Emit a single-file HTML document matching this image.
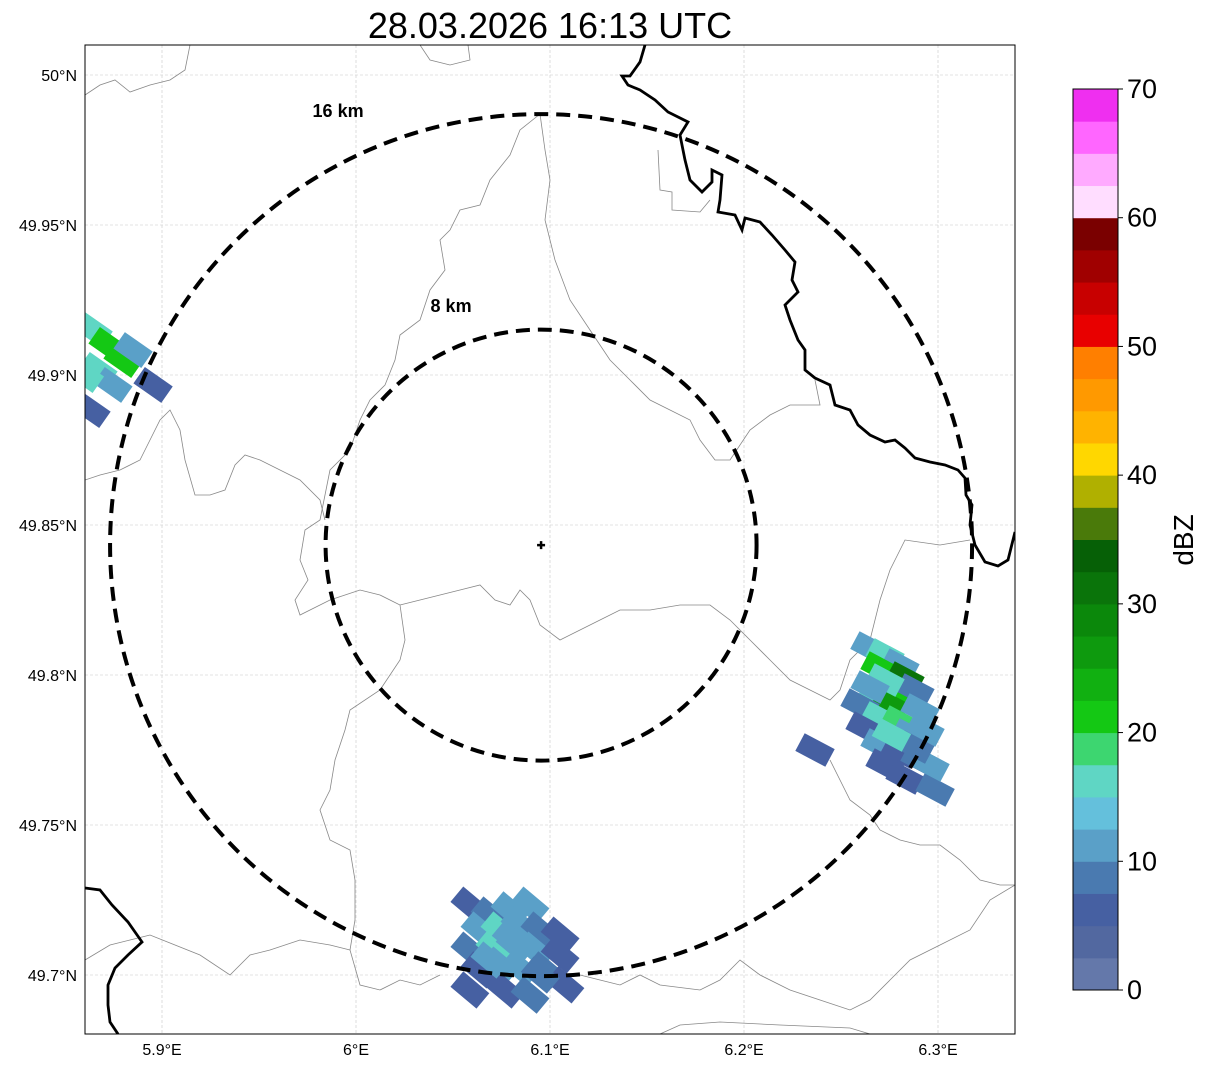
<!DOCTYPE html>
<html><head><meta charset="utf-8"><style>
html,body{margin:0;padding:0;background:#fff;}
svg{display:block;font-family:"Liberation Sans",sans-serif;}
</style></head><body>
<svg id="chart" width="1207" height="1069" viewBox="0 0 1207 1069" xmlns="http://www.w3.org/2000/svg">
<defs><clipPath id="mapclip"><rect x="85" y="45" width="930" height="989"/></clipPath></defs>
<rect x="0" y="0" width="1207" height="1069" fill="#fff"/>
<text x="550" y="38" font-size="36" text-anchor="middle" fill="#000">28.03.2026 16:13 UTC</text>
<g id="grid"></g>
<g clip-path="url(#mapclip)">
<g id="borders" fill="none" stroke="#888" stroke-width="0.8">
<polyline points="85,95 100,85 115,80 130,92 150,85 170,80 185,70 190,45"/>
<polyline points="420,45 430,60 450,65 470,60 468,45"/>
<polyline points="540,114 520,130 510,155 490,180 480,205 460,210 450,230 440,240 445,270 430,290 420,320 400,335 395,360 385,385 370,400 360,420 350,450 330,470 320,520 305,530 300,560 308,580 295,600 300,615 330,600 360,590 380,595 400,605 405,640 400,660 380,690 350,710 345,730 335,760 330,790 320,810 330,840 350,850 355,880 355,920 350,950 360,985 380,990 400,980 420,985 440,975"/>
<polyline points="540,114 545,150 550,180 545,220 555,260 570,300 590,330 610,360 630,380 650,400 670,410 690,420 700,440 715,460 730,460 750,430 770,415 790,405 820,405 815,380"/>
<polyline points="400,605 420,600 440,595 460,590 480,585 495,600 510,605 520,590 530,600 540,625 560,640 580,630 600,620 620,610 650,610 680,605 710,605 730,620 750,640 770,660 790,680 810,690 830,700 840,690 850,660 870,640 880,600 890,570 905,540 940,545 970,540"/>
<polyline points="85,480 100,475 120,470 140,460 150,440 160,420 170,410 180,430 185,460 195,495 210,495 225,490 235,465 245,455 260,460 280,470 300,480 320,500 325,520"/>
<polyline points="85,960 110,945 130,940 150,935 175,945 200,955 230,975 250,955 270,950 300,940 330,945 350,950"/>
<polyline points="580,975 600,980 620,985 640,975 660,985 700,990 720,980 740,960 760,975 790,990 820,1000 850,1010 870,1000 890,980 910,960 940,945 970,930 990,900 1015,885"/>
<polyline points="830,760 850,800 870,815 880,830 900,840 920,845 940,845 960,860 980,880 1000,885 1015,885"/>
<polyline points="660,1034 680,1025 720,1022 780,1025 850,1028 870,1034"/>
<polyline points="658,150 660,190 672,192 672,210 700,212 710,200"/>
</g>
<g id="cells"></g>
<polyline fill="none" stroke="#000" stroke-width="2.8" points="645,45 640,62 630,76 622,76 628,85 640,90 655,100 668,112 688,122 680,135 685,160 690,180 702,192 712,182 712,170 722,175 720,200 718,212 735,215 742,230 745,218 760,222 772,235 785,250 795,262 792,280 798,292 785,305 790,320 798,340 805,350 805,370 815,378 830,385 835,405 850,410 858,425 870,435 885,442 895,440 905,448 915,458 930,462 945,465 958,470 965,478 966,495 972,505 970,525 975,545 985,562 998,566 1008,560 1015,532"/>
<polyline fill="none" stroke="#000" stroke-width="2.8" points="85,888 100,890 112,905 128,922 142,942 128,955 115,968 108,985 108,1005 110,1022 118,1034"/>
<g id="rings"></g>
</g>
<rect x="85" y="45" width="930" height="989" fill="none" stroke="#000" stroke-width="1"/>
<g id="axes"></g>
<g id="cbar"></g>
<text transform="translate(1193,540) rotate(-90)" font-size="28" text-anchor="middle">dBZ</text>
</svg>
<script>
const NS='http://www.w3.org/2000/svg';
// axis data
const lonTicks=[5.9,6.0,6.1,6.2,6.3];
const lonLabels=['5.9°E','6°E','6.1°E','6.2°E','6.3°E'];
const latTicks=[50.0,49.95,49.9,49.85,49.8,49.75,49.7];
const latLabels=['50°N','49.95°N','49.9°N','49.85°N','49.8°N','49.75°N','49.7°N'];
const radarLon=6.0954, radarLat=49.8433;
const ringKm=[8,16];
const ringLabels=['8 km','16 km'];
// colour scale data
const levels=[0,2.5,5,7.5,10,12.5,15,17.5,20,22.5,25,27.5,30,32.5,35,37.5,40,42.5,45,47.5,50,52.5,55,57.5,60,62.5,65,67.5,70];
const levelColors=['#6478aa','#5268a0','#4660a2','#4a7ab0','#5aa0c8','#64c0dc','#5fd6c4','#3dd670','#14c814','#11b011','#0e9a0e','#0b880b','#0a740a','#066006','#4a7a0a','#b0b000','#ffd700','#ffb300','#ff9900','#ff7f00','#e80000','#c80000','#a00000','#7a0000','#ffddff','#ffaaff','#ff66ff','#ef2ff0'];
const cbTicks=[0,10,20,30,40,50,60,70];
// radar echo data (lon, lat, dBZ, cluster)
const cellLon=[6.2649,6.2727,6.2804,6.2701,6.2830,6.2778,6.2881,6.2675,6.2753,6.2598,6.2907,6.2701,6.2804,6.2624,6.2856,6.2933,6.2701,6.2804,6.2907,6.2727,6.2830,6.2985,6.2959,6.2366,6.2727,6.2650,6.2880,6.2760,
 6.0587,6.0691,6.0794,6.0897,6.0639,6.0742,6.0845,6.0948,6.1052,6.0587,6.0716,6.0820,6.0923,6.1052,6.0639,6.0742,6.0845,6.0974,6.1077,6.0768,6.0897,6.0587,6.0800,6.0690,6.0950,
 5.8645,5.8722,5.8799,5.8670,5.8747,5.8954,5.8634,5.8851,5.8600];
const cellLat=[49.8090,49.8067,49.8033,49.8023,49.7990,49.7950,49.7950,49.7917,49.7900,49.7900,49.7883,49.7857,49.7843,49.7823,49.7800,49.7817,49.7767,49.7743,49.7717,49.7700,49.7657,49.7617,49.7700,49.7750,49.7983,49.7960,49.7760,49.7800,
 49.7233,49.7200,49.7217,49.7233,49.7150,49.7150,49.7167,49.7150,49.7133,49.7083,49.7090,49.7100,49.7083,49.7067,49.7017,49.7033,49.7023,49.7017,49.6967,49.6950,49.6933,49.6950,49.7120,49.7050,49.7000,
 49.9150,49.9100,49.9050,49.9017,49.8967,49.8967,49.8883,49.9083,49.9000];
const cellVal=[12,15,10,20,30,22,8,17,27,8,12,15,18,6,10,12,10,6,8,5,5,8,10,5,17,12,8,15,
 5,8,10,12,10,15,12,8,5,8,17,12,10,6,6,10,12,8,6,5,8,5,12,10,8,
 17,20,22,15,12,6,5,12,15];
const cellCluster=[0,0,0,0,0,0,0,0,0,0,0,0,0,0,0,0,0,0,0,0,0,0,0,0,0,0,0,0,
 1,1,1,1,1,1,1,1,1,1,1,1,1,1,1,1,1,1,1,1,1,1,1,1,1,
 2,2,2,2,2,2,2,2,2];
const clusterAngle=[28,40,35];

const X=lon=>162+(lon-5.9)*1940;
const Y=lat=>75+(50.0-lat)*3000;
const kmPx=431/16;
function colorFor(v){for(let i=levels.length-2;i>=0;i--){if(v>=levels[i])return levelColors[i];}return levelColors[0];}
function mk(tag,attrs,parent){const e=document.createElementNS(NS,tag);for(const k in attrs)e.setAttribute(k,attrs[k]);parent.appendChild(e);return e;}

const grid=document.getElementById('grid');
lonTicks.forEach((t,i)=>{
  const l=mk('line',{x1:X(t),x2:X(t),y1:45,y2:1034,stroke:'#c8c8c8','stroke-width':0.6,'stroke-dasharray':'3,2'},grid);
  
  
});
latTicks.forEach((t,i)=>{
  const l=mk('line',{x1:85,x2:1015,y1:Y(t),y2:Y(t),stroke:'#c8c8c8','stroke-width':0.6,'stroke-dasharray':'3,2'},grid);
  
  
});
const axes=document.getElementById('axes');
lonTicks.forEach((t,i)=>{
  const tx=mk('text',{x:X(t),y:1055,'font-size':16,'text-anchor':'middle'},axes);
  tx.textContent=lonLabels[i];
  
  
});
latTicks.forEach((t,i)=>{
  const tx=mk('text',{x:77,y:Y(t)+6,'font-size':16,'text-anchor':'end'},axes);
  tx.textContent=latLabels[i];
  
  
});

const cells=document.getElementById('cells');
cellLon.forEach((lon,i)=>{
  const cx=X(lon), cy=Y(cellLat[i]);
  const r=mk('rect',{x:cx-17,y:cy-10,width:34,height:20,fill:colorFor(cellVal[i]),transform:`rotate(${clusterAngle[cellCluster[i]]} ${cx} ${cy})`},cells);
  
  
});

const rings=document.getElementById('rings');
const rcx=X(radarLon), rcy=Y(radarLat);
const labelDx=[-90,-203];
const labelDy=[-233,-428];
ringKm.forEach((k,i)=>{
  const c=mk('circle',{cx:rcx,cy:rcy,r:k*kmPx,fill:'none',stroke:'#000','stroke-width':4,'stroke-dasharray':'14,8'},rings);
  
  
  const t=mk('text',{x:rcx+labelDx[i],y:rcy+labelDy[i],'font-size':18,'font-weight':'bold','text-anchor':'middle'},rings);
  t.textContent=ringLabels[i];
  
  
});
const p=mk('path',{d:`M${rcx-4},${rcy}h8M${rcx},${rcy-4}v8`,stroke:'#000','stroke-width':2.5},rings);



const cb=document.getElementById('cbar');
const cbTop=89,cbBot=990,cbX=1073,cbW=45;
const CY=v=>cbBot-(v-levels[0])/(levels[levels.length-1]-levels[0])*(cbBot-cbTop);
levelColors.forEach((c,i)=>{
  const r=mk('rect',{x:cbX,y:CY(levels[i+1]),width:cbW,height:CY(levels[i])-CY(levels[i+1])+0.5,fill:c},cb);
  
  
});
const fr=mk('rect',{x:cbX,y:cbTop,width:cbW,height:cbBot-cbTop,fill:'none',stroke:'#000','stroke-width':1},cb);


cbTicks.forEach(v=>{
  const l=mk('line',{x1:cbX+cbW,x2:cbX+cbW+5,y1:CY(v),y2:CY(v),stroke:'#000'},cb);
  
  
  const t=mk('text',{x:cbX+cbW+9,y:CY(v)+9,'font-size':27},cb);
  t.textContent=v;
  
  
});
</script>
</body></html>
